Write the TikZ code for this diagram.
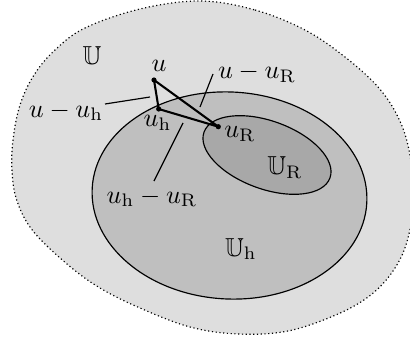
\documentclass[tikz,border=0pt]{standalone}
\usepackage{amssymb}
\definecolor{outerfill}{gray}{0.87}
\definecolor{midfill}{gray}{0.75}
\definecolor{innerfill}{gray}{0.66}
\begin{document}
\begin{tikzpicture}[x=0.385pt,y=-0.385pt,
  region/.style={draw=black, line width=0.45pt},
  link/.style={line width=0.8pt, line join=round},
  leader/.style={line width=0.45pt},
  lbl/.style={inner sep=0pt, anchor=base},
  dotpt/.style={fill=black}]
\useasboundingbox (0,0) rectangle (410,343);
\begin{scope}
\clip (0,0) rectangle (410,343);
\filldraw[fill=outerfill, draw=black, densely dotted, line width=0.45pt]
  plot[smooth cycle, tension=0.6] coordinates {
  (200,1) (255,10) (305,30) (345,57) (378,87) (398,117) (409,150) (414,195)
  (408,238) (395,268) (372,294) (338,314) (288,331) (238,334) (190,327)
  (140,308) (100,288) (67,264) (33,231) (17,201) (12,171) (13,140)
  (20,105) (34,75) (55,50) (85,28) (140,9)};
\end{scope}
\begin{scope}[shift={(229.5,195.5)}, rotate=-3]
\filldraw[region, fill=midfill] (0,0) ellipse [x radius=137.5, y radius=103.5];
\end{scope}
\begin{scope}[shift={(267,155)}, rotate=-20]
\filldraw[region, fill=innerfill] (0,0) ellipse [x radius=67, y radius=34];
\end{scope}
\coordinate (u) at (154,80);
\coordinate (uh) at (158.7,109);
\coordinate (uR) at (218.3,126.7);
\draw[link] (u) -- (uh) -- (uR) -- cycle;
\fill[dotpt] (u) circle (1pt);
\fill[dotpt] (uh) circle (1pt);
\fill[dotpt] (uR) circle (1pt);
\node[lbl] (lU) at (92,65) {$\mathbb{U}$};
\node[lbl] (lu) at (159,72) {$u$};
\node[lbl] (luuR) at (257,79) {$u-u_{\mathrm{R}}$};
\node[lbl] (luuh) at (66,117) {$u-u_{\mathrm{h}}$};
\node[lbl] (luh) at (157.5,127) {$u_{\mathrm{h}}$};
\node[lbl] (luR) at (240,138) {$u_{\mathrm{R}}$};
\node[lbl] (luhuR) at (152,203) {$u_{\mathrm{h}}-u_{\mathrm{R}}$};
\node[lbl] (lUR) at (285,175) {$\mathbb{U}_{\mathrm{R}}$};
\node[lbl] (lUh) at (241,256) {$\mathbb{U}_{\mathrm{h}}$};
\coordinate (a1) at (105,104);
\coordinate (a2) at (150,97);
\coordinate (b1) at (213,74);
\coordinate (b2) at (200,107);
\coordinate (c1) at (183,123);
\coordinate (c2) at (154,181);
\draw[leader] (a1) -- (a2);
\draw[leader] (b1) -- (b2);
\draw[leader] (c1) -- (c2);
\end{tikzpicture}
\end{document}
